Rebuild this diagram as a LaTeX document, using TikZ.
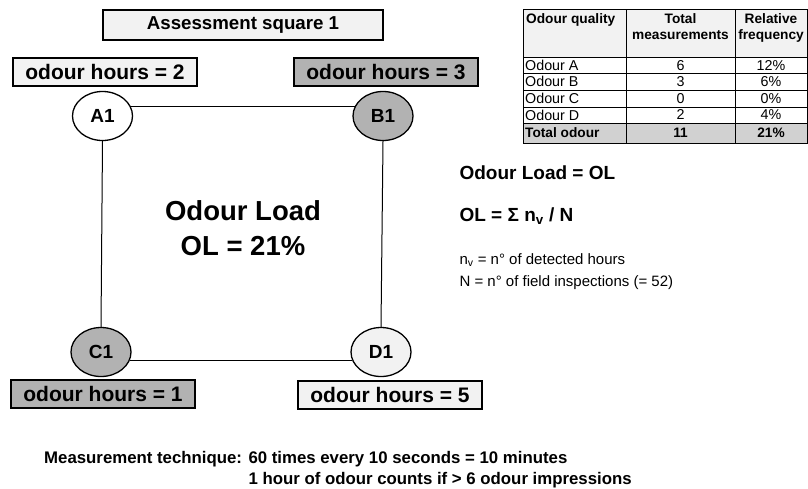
\documentclass[tikz,border=0pt]{standalone}
\usepackage{fontspec}
\setmainfont{Liberation Sans}
\usepackage{tikz}
\usetikzlibrary{shapes.geometric, positioning, calc}
\definecolor{lightfill}{gray}{0.95}
\definecolor{darkfill}{gray}{0.70}
\tikzstyle{hours} = [rectangle, draw=black, line width=1.2pt, minimum width=184pt, minimum height=28pt, inner sep=0pt, font=\fontsize{21}{24}\selectfont\bfseries]
\tikzstyle{point} = [ellipse, draw=black, line width=1.3pt, minimum width=60pt, minimum height=49pt, inner sep=0pt, font=\fontsize{19}{22}\selectfont\bfseries]
\tikzstyle{line} = [line width=1pt, black]
\tikzstyle{cell} = [inner sep=0pt, font=\fontsize{14.3}{16}\selectfont]
\tikzstyle{hcell} = [inner sep=0pt, align=center, font=\fontsize{13.7}{16}\selectfont\bfseries]
\begin{document}
\begin{tikzpicture}[x=1pt, y=-1pt]
            \useasboundingbox (0,0) rectangle (808,488);
            \node (title) [rectangle, draw=black, line width=1.2pt, fill=lightfill, minimum width=280pt, minimum height=30pt, font=\fontsize{18.7}{22}\selectfont\bfseries] at (243,25) {Assessment square 1};

            \node (hA) [hours, fill=lightfill] at (105,72) {odour hours = 2};
            \node (hB) [hours, fill=darkfill] at (386,72) {odour hours = 3};
            \node (hC) [hours, fill=darkfill] at (103,394) {odour hours = 1};
            \node (hD) [hours, fill=lightfill] at (390,395) {odour hours = 5};

            \node (A1) [point, fill=white] at (102.5,116) {A1};
            \node (B1) [point, fill=darkfill] at (383,116) {B1};
            \node (C1) [point, fill=darkfill] at (101,352) {C1};
            \node (D1) [point, fill=lightfill] at (381,352) {D1};

            \draw [line] (A1.18) -- (B1.162);
            \draw [line] (A1.south) -- (C1.north);
            \draw [line] (B1.south) -- (D1.north);
            \draw [line] (C1.-17) -- (D1.-163);

            \node (load) [align=center, font=\fontsize{27.5}{35}\selectfont\bfseries] at (243,228) {Odour Load\\OL = 21\%};

            % table
            \fill [lightfill] (523,9) rectangle (807,57.5);
            \fill [darkfill!60] (523,123) rectangle (807,143);
            \draw [line] (523,9) rectangle (807,143);
            \foreach \y in {57.5,73,90,107,123}
                \draw [line] (523,\y) -- (807,\y);
            \foreach \x in {626,735}
                \draw [line] (\x,9) -- (\x,143);
            \node (thq) [hcell, anchor=north west] at (526,13) {Odour quality};
            \node (thm) [hcell, anchor=north] at (680.5,13) {Total\\measurements};
            \node (thf) [hcell, anchor=north] at (771,13) {Relative\\frequency};
            \foreach \name/\n/\f/\y in {A/6/12/65.25, B/3/6/81.5, C/0/0/98.5, D/2/4/115}{
                \node (q\name) [cell, anchor=west] at (525,\y) {Odour \name};
                \node (m\name) [cell] at (680.5,\y) {\n};
                \node (f\name) [cell] at (771,\y) {\f\%};
            }
            \node (qT) [hcell, anchor=west] at (525,133) {Total odour};
            \node (mT) [hcell] at (680.5,133) {11};
            \node (fT) [hcell] at (771,133) {21\%};

            % definition
            \node (def) [anchor=west, font=\fontsize{19}{22}\selectfont\bfseries] at (456,173) {Odour Load = OL};
            \node (form) [anchor=west, font=\fontsize{19}{22}\selectfont\bfseries] at (456,216) {OL = Σ n\textsubscript{v} / N};
            \node (nv) [anchor=west, font=\fontsize{15}{18}\selectfont] at (456,260) {n\textsubscript{v} = n° of detected hours};
            \node (nN) [anchor=west, font=\fontsize{15}{18}\selectfont] at (456,283) {N = n° of field inspections (= 52)};

            % technique
            \node (tech) [anchor=west, inner sep=0pt, font=\fontsize{16.8}{19}\selectfont\bfseries] at (44,459) {Measurement technique:};
            \node (tech1) [anchor=base west, inner sep=0pt, font=\fontsize{16.8}{19}\selectfont\bfseries] at ($(tech.base east)+(6,0)$) {60 times every 10 seconds = 10 minutes};
            \node (tech2) [anchor=base west, inner sep=0pt, font=\fontsize{16.8}{19}\selectfont\bfseries] at ($(tech1.base west)+(0,21)$) {1 hour of odour counts if > 6 odour impressions};
        \end{tikzpicture}
\end{document}
